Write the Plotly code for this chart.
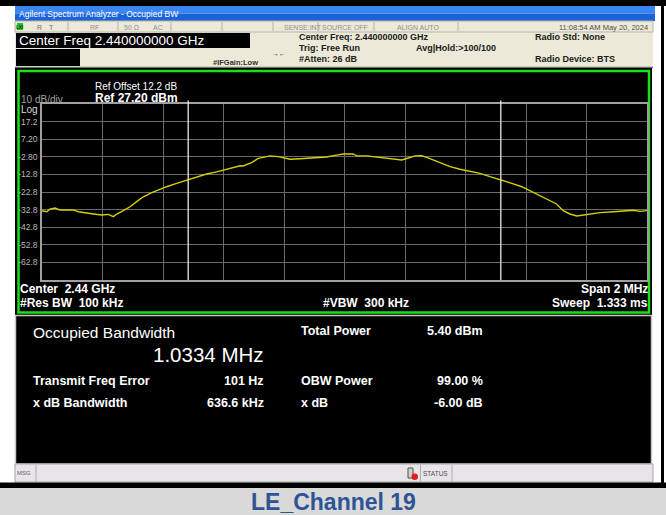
import plotly.graph_objects as go

# ---------------- data ----------------
freq_khz = [-1000, -984, -974, -957, -941, -918, -897, -880, -852, -830,
            -803, -781, -764, -753, -731, -709, -687, -665, -637, -616,
            -588, -555, -522, -489, -456, -422, -389, -345, -335, -307,
            -285, -268, -246, -219, -197, -180, -147, -103, -59, -31,
            -4, 29, 40, 73, 106, 150, 189, 211, 233, 255,
            272, 299, 327, 349, 382, 415, 448, 481, 520, 553,
            586, 619, 652, 679, 701, 723, 745, 768, 789, 812,
            845, 889, 922, 955, 977, 1000]
level_dbm = [-33.4, -34.0, -32.6, -31.9, -33.0, -33.0, -33.0, -34.0, -34.5, -35.3,
             -35.9, -35.5, -36.8, -35.3, -33.4, -31.2, -28.3, -25.5, -23.2, -21.7,
             -19.8, -17.9, -16.0, -14.1, -12.6, -11.4, -9.9, -7.9, -8.0, -6.1,
             -3.7, -3.1, -2.3, -2.7, -3.5, -4.2, -3.9, -3.3, -2.9, -2.0,
             -1.2, -1.2, -2.3, -2.3, -2.9, -3.9, -4.6, -3.5, -2.3, -2.2,
             -3.1, -5.0, -6.9, -8.4, -9.9, -10.9, -12.2, -14.1, -16.0, -17.9,
             -19.8, -22.6, -25.1, -27.3, -29.6, -33.4, -35.3, -36.4, -35.9, -35.3,
             -34.5, -34.0, -33.6, -33.2, -33.8, -33.4]

ref_level = 27.20
db_per_div = 10
span_khz = 2000
y_tick_vals = [17.2, 7.2, -2.8, -12.8, -22.8, -32.8, -42.8, -52.8, -62.8]
y_tick_text = ["17.2", "7.20", "-2.80", "-12.8", "-22.8", "-32.8", "-42.8", "-52.8", "-62.8"]
x_grid_vals = [-800, -600, -400, -200, 0, 200, 400, 600, 800]
obw_mhz = 1.0334

result_labels_left = ["Transmit Freq Error", "x dB Bandwidth"]
result_values_left = ["101 Hz", "636.6 kHz"]
result_labels_right = ["Total Power", "OBW Power", "x dB"]
result_values_right = ["5.40 dBm", "99.00 %", "-6.00 dB"]

caption = "LE_Channel 19"

# ---------------- helpers ----------------
W, H = 666, 515
FONT = "Liberation Sans, Arial, sans-serif"


def X(px):
    return px / W


def Y(py):
    return 1 - py / H


shapes = []
annotations = []


def rect(x0, y0, x1, y1, fill, line=None, lw=0):
    shapes.append(dict(type="rect", xref="paper", yref="paper",
                       x0=X(x0), x1=X(x1), y0=Y(y1), y1=Y(y0),
                       fillcolor=fill, layer="below",
                       line=dict(color=line if line else fill, width=lw)))


def hline(x0, x1, y, color, w=1):
    shapes.append(dict(type="line", xref="paper", yref="paper",
                       x0=X(x0), x1=X(x1), y0=Y(y), y1=Y(y),
                       line=dict(color=color, width=w), layer="below"))


def vline(x, y0, y1, color, w=1):
    shapes.append(dict(type="line", xref="paper", yref="paper",
                       x0=X(x), x1=X(x), y0=Y(y0), y1=Y(y1),
                       line=dict(color=color, width=w), layer="below"))


def text(x, y, s, size=9, color="#000", bold=False, anchor="left"):
    if bold:
        s = "<b>" + s + "</b>"
    # compensate for annotation padding
    if anchor == "left":
        x -= 2
    elif anchor == "right":
        x += 2
    annotations.append(dict(x=X(x), y=Y(y), xref="paper", yref="paper",
                            text=s, showarrow=False, xanchor=anchor,
                            yanchor="middle",
                            font=dict(family=FONT, size=size, color=color)))


# ---------------- frame / panels ----------------
rect(0, 0, 666, 6, "#000000")
rect(661, 0, 664, 488, "#000000")
# title bar
rect(15, 6, 655, 13.5, "#3a86f0")
rect(15, 13.5, 655, 21, "#1c62d8")
text(19, 14, "Agilent Spectrum Analyzer - Occupied BW", 8.5, "#ffffff")
# header beige
rect(15, 21, 653, 67, "#ece9d8")
rect(15, 21, 653, 32, "#ece9d8", "#b8b4a4", 1)
for dx in [68, 118, 171, 222, 273, 318, 374, 458]:
    vline(dx, 22, 31, "#b8b4a4", 1)
rect(17, 23, 23, 30, "#22c022")
text(20, 26.5, "LXI", 5, "#000000", anchor="center")
text(37, 27, "R", 7, "#707070")
text(49, 27, "T", 7, "#707070")
text(90, 27, "RF", 7, "#909090")
text(124, 27, "50 Ω", 7, "#909090")
text(153, 27, "AC", 7, "#909090")
text(284, 27, "SENSE:INT", 7, "#909090")
text(322, 27, "SOURCE OFF", 7, "#909090")
text(397, 27, "ALIGN AUTO", 7, "#909090")
text(648, 27, "11:08:54 AM May 20, 2024", 7.5, "#505050", anchor="right")

rect(16, 33, 250, 48, "#000000")
text(19, 40.5, "Center Freq 2.440000000 GHz", 13.5, "#ffffff")
rect(16, 49, 80, 66, "#000000")
text(213, 62, "#IFGain:Low", 7.5, "#303030", bold=True)
text(279, 54, "→←", 7, "#303030", anchor="center")
text(299, 37.5, "Center Freq: 2.440000000 GHz", 9, "#202020", bold=True)
text(299, 48, "Trig: Free Run", 9, "#202020", bold=True)
text(299, 59, "#Atten: 26 dB", 9, "#202020", bold=True)
text(416, 48, "Avg|Hold:>100/100", 9, "#202020", bold=True)
text(535, 37.5, "Radio Std: None", 9, "#202020", bold=True)
text(535, 59, "Radio Device: BTS", 9, "#202020", bold=True)
hline(15, 653, 67.5, "#707070", 1.5)

# main trace panel
rect(15, 68, 652, 315, "#000000")
rect(18.5, 71, 649, 312.5, "#000000", "#19e019", 2.5)

# lower results panel
rect(15.5, 315.5, 651.5, 464, "#000000", "#c8c8c8", 1.5)
text(33, 332.5, "Occupied Bandwidth", 15.5, "#ffffff")
text(264, 354, f"{obw_mhz:.4f} MHz", 20.5, "#ffffff", anchor="right")
for i, (lab, val) in enumerate(zip(result_labels_left, result_values_left)):
    yy = 381 + i * 21.5
    text(33, yy, lab, 12.5, "#ffffff", bold=True)
    text(264, yy, val, 12.5, "#ffffff", bold=True, anchor="right")
for i, (lab, val) in enumerate(zip(result_labels_right, result_values_right)):
    yy = [330.5, 381, 402.5][i]
    text(301, yy, lab, 12.5, "#ffffff", bold=True)
    text(483, yy, val, 12.5, "#ffffff", bold=True, anchor="right")

# status bar
rect(15, 464, 653, 482, "#e8e5e8", "#a8a4a8", 1)
vline(36, 465, 481, "#b0acb0", 1)
vline(420.5, 465, 481, "#b0acb0", 1)
vline(452, 465, 481, "#b0acb0", 1)
text(17, 473, "MSG", 6, "#606060")
rect(408, 468, 413, 478, "#d0d0d0", "#505050", 1)
shapes.append(dict(type="circle", xref="paper", yref="paper",
                   x0=X(411.5), x1=X(418), y0=Y(480), y1=Y(473.5),
                   fillcolor="#e02020", line=dict(color="#e02020", width=0)))
text(423, 473, "STATUS", 6.5, "#505050")

# bottom caption
rect(0, 482.5, 666, 488, "#000000")
rect(0, 488, 666, 515, "#d9d9d9")
text(333, 502, caption, 23, "#2f5496", bold=True, anchor="center")

# plot annotations
text(20.5, 99.5, "10 dB/div", 10, "#a0a0a0")
text(20.5, 109, "Log", 10, "#d8d8d8")
text(95, 86, "Ref Offset 12.2 dB", 10, "#ffffff")
text(95, 97.5, f"Ref {ref_level:.2f} dBm", 12, "#ffffff", bold=True)
text(20, 289, "Center&nbsp;&nbsp;2.44 GHz", 12, "#ffffff", bold=True)
text(20, 303, "#Res BW&nbsp;&nbsp;100 kHz", 12, "#ffffff", bold=True)
text(323, 303, "#VBW&nbsp;&nbsp;300 kHz", 12, "#ffffff", bold=True)
text(648, 289, "Span 2 MHz", 12, "#ffffff", bold=True, anchor="right")
text(648, 303, "Sweep&nbsp;&nbsp;1.333 ms", 12, "#ffffff", bold=True, anchor="right")

# OBW markers (data x positions)
for fx in [-obw_mhz * 500, obw_mhz * 500]:
    shapes.append(dict(type="line", xref="x", yref="paper",
                       x0=fx, x1=fx, y0=Y(280), y1=Y(100.5),
                       line=dict(color="#e8e8e8", width=1.3), layer="above"))

fig = go.Figure()
fig.add_trace(go.Scatter(x=freq_khz, y=level_dbm, mode="lines",
                         line=dict(color="#d4cf00", width=1.4),
                         hoverinfo="skip", showlegend=False))

fig.update_layout(
    width=W, height=H,
    margin=dict(l=0, r=0, t=0, b=0),
    paper_bgcolor="#ffffff",
    plot_bgcolor="#000000",
    shapes=shapes,
    annotations=annotations,
    showlegend=False,
    xaxis=dict(domain=[X(42), X(647)], range=[-span_khz / 2, span_khz / 2],
               tickvals=x_grid_vals, showticklabels=False, ticks="",
               showgrid=True, gridcolor="#6a6a6a", gridwidth=1,
               zeroline=False, showline=True, linecolor="#a0a0a0",
               linewidth=1.5, mirror=True, fixedrange=True),
    yaxis=dict(domain=[Y(280), Y(104)],
               range=[ref_level - 10 * db_per_div, ref_level],
               tickvals=y_tick_vals, ticktext=y_tick_text, ticks="",
               tickfont=dict(family=FONT, size=8.5, color="#b8b8b8"),
               ticklabelstandoff=1,
               showgrid=True, gridcolor="#6a6a6a", gridwidth=1,
               zeroline=False, showline=True, linecolor="#a0a0a0",
               linewidth=1.5, mirror=True, fixedrange=True),
)

fig.write_html(
    "out.html",
    config={"displayModeBar": False},
    post_script="document.body.style.margin='0';document.body.style.overflow='hidden';",
)
